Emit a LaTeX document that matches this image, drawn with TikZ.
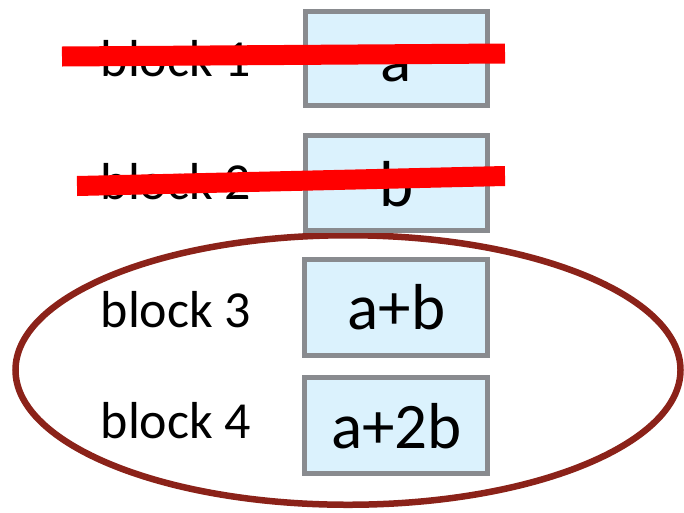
\documentclass[tikz,border=0pt]{standalone}
\usepackage{fontspec}
\setmainfont{Carlito}
\definecolor{boxfill}{HTML}{DBF2FD}
\definecolor{boxline}{HTML}{898B8F}
\definecolor{ringline}{HTML}{8B2219}
\definecolor{strike}{HTML}{FF0000}
\tikzset{
  blockbox/.style={draw=boxline, fill=boxfill, line width=5pt},
  blocklabel/.style={anchor=base west, inner sep=0pt, font=\fontsize{52}{60}\selectfont},
  blockvalue/.style={anchor=base, inner sep=0pt, font=\fontsize{65}{76}\selectfont},
  strikeout/.style={draw=strike, line width=20pt, line cap=butt},
  ring/.style={draw=ringline, line width=6.5pt}
}
\begin{document}
\begin{tikzpicture}[x=1pt,y=-1pt]
\clip (0,0) rectangle (684,512);
% grouping ring around the two remaining blocks
\draw[ring] (348,370) ellipse [x radius=332.5, y radius=134.75];
% value boxes
\path[blockbox] (305.5,11.5) rectangle (487.5,105.5);
\path[blockbox] (305.5,135.5) rectangle (487.5,230.5);
\path[blockbox] (304.5,259.5) rectangle (487.5,355.5);
\path[blockbox] (304.5,377.5) rectangle (487.5,473.5);
% box contents
\node[blockvalue] (va) at (396.5,81) {a};
\node[blockvalue] (vb) at (396.5,206) {b};
\node[blockvalue] (vc) at (396.5,329) {a+b};
\node[blockvalue] (vd) at (396.5,448) {a+2b};
% block labels
\node[blocklabel] (l1) at (100.5,76) {block 1};
\node[blocklabel] (l2) at (100.5,199) {block 2};
\node[blocklabel] (l3) at (100.5,327) {block 3};
\node[blocklabel] (l4) at (100.5,438) {block 4};
% strike-through marks
\coordinate (s1a) at (62,56.5);
\coordinate (s1b) at (505,53.5);
\coordinate (s2a) at (77,186);
\coordinate (s2b) at (505,176);
\draw[strikeout] (s1a) -- (s1b);
\draw[strikeout] (s2a) -- (s2b);
\end{tikzpicture}
\end{document}
